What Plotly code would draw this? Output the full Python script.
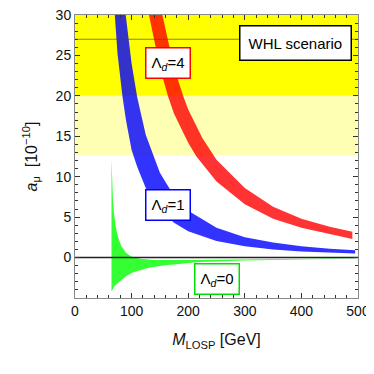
import plotly.graph_objects as go

# ---------------- data ----------------
# Lambda_d = 4 band (red)
red_up_M = [125, 140, 154.4, 175, 191, 200, 225, 250, 300, 350, 400, 450, 490]
red_up_a = [45.0, 36.5, 30.0, 23.5, 20.0, 18.3, 14.8, 12.1, 8.6, 6.3, 4.8, 3.8, 3.2]
red_lo_M = [125, 130.7, 150, 164, 175, 200, 214.5, 250, 300, 350, 400, 450, 490]
red_lo_a = [33.0, 30.0, 23.5, 20.0, 17.8, 14.2, 12.5, 9.4, 6.6, 4.8, 3.7, 2.9, 2.3]

# Lambda_d = 1 band (blue)
blue_up_M = [85, 89.6, 100, 110, 125, 150, 175, 200, 250, 300, 350, 400, 450, 495]
blue_up_a = [33.5, 30.0, 24.0, 19.8, 15.2, 10.5, 7.6, 5.8, 3.7, 2.5, 1.85, 1.4, 1.1, 0.9]
blue_lo_M = [66, 70.3, 75, 83.7, 90, 100, 110, 125, 150, 175, 200, 250, 300, 350, 400, 450, 495]
blue_lo_a = [34.0, 30.0, 25.3, 20.0, 17.0, 13.3, 11.2, 8.6, 5.9, 4.3, 3.25, 2.05, 1.4, 1.0, 0.76, 0.6, 0.49]

# Lambda_d = 0 band (green)
green_up_M = [64.5, 65.5, 67, 69, 72, 76, 82, 90, 100, 115, 140, 200, 300, 400, 495]
green_up_a = [12.2, 9.5, 7.2, 5.4, 3.8, 2.5, 1.4, 0.6, 0.1, -0.15, -0.3, -0.3, -0.2, -0.12, -0.08]
green_lo_M = [64.5, 70, 79, 90, 102, 130, 160, 185, 220, 300, 400, 495]
green_lo_a = [-4.2, -3.5, -2.9, -2.3, -1.85, -1.25, -0.95, -0.75, -0.55, -0.35, -0.2, -0.12]

# experimental bands and reference lines
band_1sigma = [20, 30]      # bright yellow
band_2sigma = [12.6, 20]    # pale yellow
line_levels = [27]
zero_level = [0]

x_ticks = [0, 100, 200, 300, 400, 500]
y_ticks = [0, 5, 10, 15, 20, 25, 30]
x_range = [0, 500]
y_range = [-5, 30]

labels = [
    dict(text="Λ<sub><i>d</i></sub>=4", x=164.7, y=24.1, color="#ff0000"),
    dict(text="Λ<sub><i>d</i></sub>=1", x=164.7, y=6.5, color="#0000ff"),
    dict(text="Λ<sub><i>d</i></sub>=0", x=250.3, y=-2.6, color="#00dd00"),
]
scenario = dict(text="WHL scenario", x=389, y=26.5)

FONT = "Liberation Sans, Arial, sans-serif"

fig = go.Figure()

fig.add_hrect(y0=band_2sigma[0], y1=band_2sigma[1], fillcolor="#ffffb3",
              line_width=0, layer="below")
fig.add_hrect(y0=band_1sigma[0], y1=band_1sigma[1] + 5, fillcolor="#ffff00",
              line_width=0, layer="below")


def band(xu, yu, xl, yl, color):
    return go.Scatter(x=xu + xl[::-1], y=yu + yl[::-1], fill="toself",
                      fillcolor=color, mode="lines", line=dict(width=0),
                      hoverinfo="skip", showlegend=False)


fig.add_trace(band(green_up_M, green_up_a, green_lo_M, green_lo_a, "rgba(0,255,0,0.8)"))
fig.add_trace(band(blue_up_M, blue_up_a, blue_lo_M, blue_lo_a, "rgba(0,0,255,0.8)"))
fig.add_trace(band(red_up_M, red_up_a, red_lo_M, red_lo_a, "rgba(255,0,0,0.8)"))

for lv in line_levels:
    fig.add_trace(go.Scatter(x=x_range, y=[lv, lv], mode="lines",
                             line=dict(color="rgba(70,70,40,0.65)", width=1.2),
                             showlegend=False, hoverinfo="skip"))
for lv in zero_level:
    fig.add_trace(go.Scatter(x=x_range, y=[lv, lv], mode="lines",
                             line=dict(color="#222222", width=1.5),
                             showlegend=False, hoverinfo="skip"))

for lab in labels:
    fig.add_annotation(x=lab["x"], y=lab["y"], text=lab["text"], showarrow=False,
                       font=dict(family=FONT, size=15, color="black"),
                       bgcolor="white", bordercolor=lab["color"], borderwidth=1.5,
                       borderpad=5)
fig.add_annotation(x=scenario["x"], y=scenario["y"], text=scenario["text"],
                   showarrow=False, font=dict(family=FONT, size=15, color="black"),
                   bgcolor="white", bordercolor="black", borderwidth=1.5, borderpad=8)

axis_common = dict(showgrid=False, zeroline=False, showline=True, linecolor="#888888",
                   linewidth=1, mirror="allticks", ticks="inside", ticklen=5,
                   tickcolor="#333333", automargin=False, ticklabeloverflow="allow",
                   tickfont=dict(family=FONT, size=14, color="#111"))

fig.update_xaxes(range=x_range, tickvals=x_ticks, **axis_common,
                 minor=dict(dtick=20, ticks="inside", ticklen=3, tickcolor="#333333"),
                 title=dict(text="<i>M</i><sub>LOSP</sub> [GeV]",
                            font=dict(family=FONT, size=16, color="#111"), standoff=16))
fig.update_yaxes(range=y_range, tickvals=y_ticks, **axis_common,
                 minor=dict(dtick=1, ticks="inside", ticklen=3, tickcolor="#333333"),
                 title=dict(text="<i>a</i><sub>μ</sub>  [10<sup>−10</sup>]",
                            font=dict(family=FONT, size=16, color="#111"), standoff=14))

# the page puts the figure 8 px in from the top-left corner, so shrink accordingly
fig.update_layout(template="none", width=366, height=366,
                  margin=dict(l=67, r=16, t=7, b=76, pad=0),
                  plot_bgcolor="white", paper_bgcolor="white", showlegend=False)

fig.write_html("out.html")
